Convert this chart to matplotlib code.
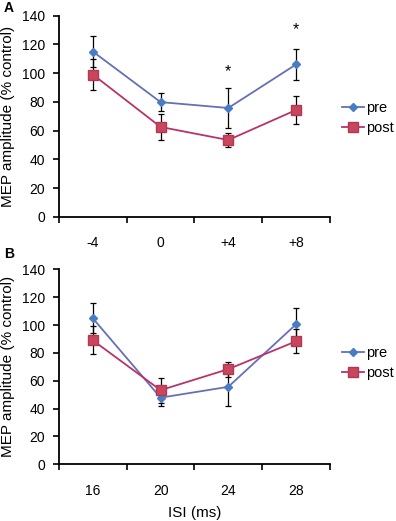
import matplotlib
matplotlib.use("Agg")
import matplotlib.pyplot as plt
import numpy as np

plt.rcParams['font.family'] = ['Liberation Sans', 'DejaVu Sans']

# panel A: ISI offset relative to ... (categories)
labels_a = ['-4', '0', '+4', '+8']
pre_a = [115, 79.8, 75.7, 106]
pre_a_err = [10.8, 6.5, 14, 11]
post_a = [99, 62.5, 53.4, 74.3]
post_a_err = [10.5, 9.3, 4.7, 9.7]
star_a = [None, None, 101, 130]  # asterisk heights

# panel B: ISI (ms)
labels_b = ['16', '20', '24', '28']
pre_b = [104.8, 47.8, 55.6, 100.5]
pre_b_err = [10.8, 5.8, 13.6, 11.5]
post_b = [89, 53.2, 68.3, 88.3]
post_b_err = [10, 9, 5.3, 8.7]

PRE_LINE = '#6670b4'
PRE_MARK = '#4a7cc6'
POST_LINE = '#b8336a'
POST_MARK = '#c9465c'


def draw_panel(ax, labels, pre, pre_err, post, post_err, stars=None, leg_y=0.5):
    x = np.arange(len(labels))
    ax.errorbar(x, pre, yerr=pre_err, fmt='none', ecolor='black', elinewidth=0.9,
                capsize=2.5, capthick=0.9, zorder=2)
    ax.errorbar(x, post, yerr=post_err, fmt='none', ecolor='black', elinewidth=0.9,
                capsize=2.5, capthick=0.9, zorder=2)
    ax.plot(x, pre, color=PRE_LINE, lw=1.3, marker='D', ms=4.5,
            mfc=PRE_MARK, mec=PRE_MARK, label='pre', zorder=3)
    ax.plot(x, post, color=POST_LINE, lw=1.3, marker='s', ms=6.5,
            mfc=POST_MARK, mec='#b03a55', label='post', zorder=3)
    if stars:
        for xi, s in zip(x, stars):
            if s is not None:
                ax.text(xi, s, '*', ha='center', va='center', fontsize=11.5)

    ax.set_xlim(-0.5, len(labels) - 0.5)
    ax.set_ylim(0, 140)
    ax.set_yticks(range(0, 141, 20))
    ax.set_xticks(np.arange(-0.5, len(labels), 1.0))
    ax.set_xticklabels([])
    ax.set_xticks(x, minor=True)
    ax.set_xticklabels(labels, minor=True)
    ax.tick_params(axis='x', which='minor', length=0, pad=14, labelsize=10)
    ax.tick_params(axis='x', which='major', direction='out', length=4, width=1.2)
    ax.tick_params(axis='y', direction='out', length=4, width=1.2, labelsize=10, pad=6)
    for sp in ['top', 'right']:
        ax.spines[sp].set_visible(False)
    for sp in ['left', 'bottom']:
        ax.spines[sp].set_linewidth(1.3)
    ax.set_ylabel('MEP amplitude (% control)', fontsize=11, labelpad=5)
    ax.legend(loc='center left', bbox_to_anchor=(1.025, leg_y), frameon=False,
              fontsize=10.5, handlelength=1.5, handletextpad=0.1, labelspacing=0.45,
              borderaxespad=0)


fig = plt.figure(figsize=(3.96, 5.21), dpi=100)
ax_a = fig.add_axes([0.149, 0.584, 0.684, 0.386])
ax_b = fig.add_axes([0.149, 0.109, 0.684, 0.374])

draw_panel(ax_a, labels_a, pre_a, pre_a_err, post_a, post_a_err, star_a, leg_y=0.49)
draw_panel(ax_b, labels_b, pre_b, pre_b_err, post_b, post_b_err, leg_y=0.52)
ax_b.set_xlabel('ISI (ms)', fontsize=11, labelpad=6)

fig.text(0.01, 0.985, 'A', fontsize=10, fontweight='bold', va='center')
fig.text(0.01, 0.512, 'B', fontsize=10, fontweight='bold', va='center')

fig.savefig('out.png', dpi=100)
